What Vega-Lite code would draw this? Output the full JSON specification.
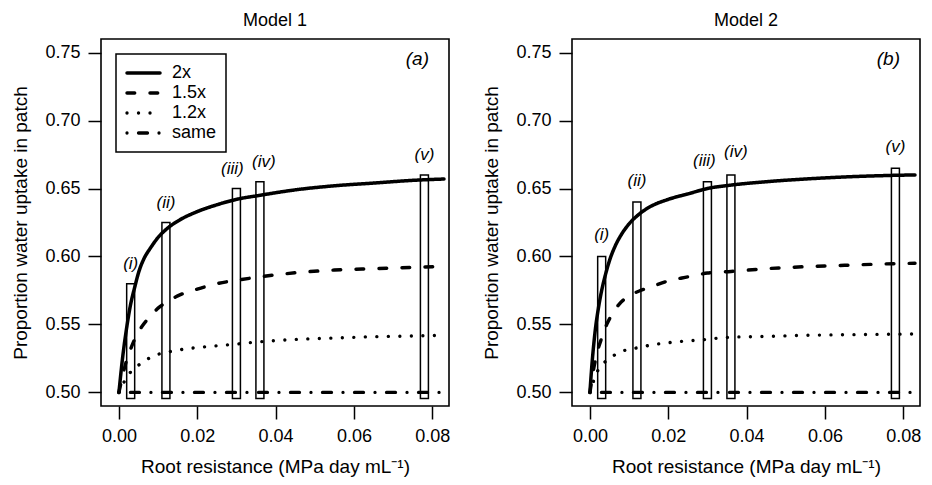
{
  "$schema": "https://vega.github.io/schema/vega-lite/v6.json",
  "padding": {"left": 11, "top": 11, "right": 6, "bottom": 2},
  "background": "white",
  "config": {
    "font": "Liberation Sans",
    "view": {"stroke": "black", "strokeWidth": 1.6},
    "axis": {"domain": false, "grid": false, "tickColor": "black", "tickSize": 13, "tickWidth": 1.5, "labelFontSize": 18, "labelColor": "black", "labelFont": "Liberation Sans", "titleFontSize": 19, "titleFontWeight": "normal", "titleColor": "black", "titleFont": "Liberation Sans"},
    "axisX": {"labelPadding": 8, "titlePadding": 12},
    "axisY": {"labelPadding": 8, "titlePadding": 14},
    "title": {"fontSize": 18, "fontWeight": "normal", "font": "Liberation Sans", "color": "black", "offset": 9}
  },
  "datasets": {
    "curves": [
      {"model": "Model 1", "series": "2x", "x": 0, "y": 0.5},
      {"model": "Model 1", "series": "2x", "x": 0.001, "y": 0.527},
      {"model": "Model 1", "series": "2x", "x": 0.002, "y": 0.548},
      {"model": "Model 1", "series": "2x", "x": 0.003, "y": 0.565},
      {"model": "Model 1", "series": "2x", "x": 0.004, "y": 0.577},
      {"model": "Model 1", "series": "2x", "x": 0.005, "y": 0.588},
      {"model": "Model 1", "series": "2x", "x": 0.0065, "y": 0.599},
      {"model": "Model 1", "series": "2x", "x": 0.008, "y": 0.606},
      {"model": "Model 1", "series": "2x", "x": 0.01, "y": 0.614},
      {"model": "Model 1", "series": "2x", "x": 0.0125, "y": 0.621},
      {"model": "Model 1", "series": "2x", "x": 0.015, "y": 0.626},
      {"model": "Model 1", "series": "2x", "x": 0.02, "y": 0.633},
      {"model": "Model 1", "series": "2x", "x": 0.025, "y": 0.638},
      {"model": "Model 1", "series": "2x", "x": 0.03, "y": 0.642},
      {"model": "Model 1", "series": "2x", "x": 0.036, "y": 0.645},
      {"model": "Model 1", "series": "2x", "x": 0.045, "y": 0.649},
      {"model": "Model 1", "series": "2x", "x": 0.055, "y": 0.652},
      {"model": "Model 1", "series": "2x", "x": 0.065, "y": 0.654},
      {"model": "Model 1", "series": "2x", "x": 0.075, "y": 0.656},
      {"model": "Model 1", "series": "2x", "x": 0.083, "y": 0.657},
      {"model": "Model 1", "series": "1.5x", "x": 0, "y": 0.5},
      {"model": "Model 1", "series": "1.5x", "x": 0.001, "y": 0.513},
      {"model": "Model 1", "series": "1.5x", "x": 0.002, "y": 0.524},
      {"model": "Model 1", "series": "1.5x", "x": 0.003, "y": 0.532},
      {"model": "Model 1", "series": "1.5x", "x": 0.0045, "y": 0.542},
      {"model": "Model 1", "series": "1.5x", "x": 0.006, "y": 0.549},
      {"model": "Model 1", "series": "1.5x", "x": 0.008, "y": 0.556},
      {"model": "Model 1", "series": "1.5x", "x": 0.01, "y": 0.562},
      {"model": "Model 1", "series": "1.5x", "x": 0.0125, "y": 0.567},
      {"model": "Model 1", "series": "1.5x", "x": 0.015, "y": 0.571},
      {"model": "Model 1", "series": "1.5x", "x": 0.02, "y": 0.576},
      {"model": "Model 1", "series": "1.5x", "x": 0.025, "y": 0.58},
      {"model": "Model 1", "series": "1.5x", "x": 0.03, "y": 0.5825},
      {"model": "Model 1", "series": "1.5x", "x": 0.036, "y": 0.585},
      {"model": "Model 1", "series": "1.5x", "x": 0.045, "y": 0.588},
      {"model": "Model 1", "series": "1.5x", "x": 0.055, "y": 0.59},
      {"model": "Model 1", "series": "1.5x", "x": 0.065, "y": 0.591},
      {"model": "Model 1", "series": "1.5x", "x": 0.075, "y": 0.592},
      {"model": "Model 1", "series": "1.5x", "x": 0.083, "y": 0.5926},
      {"model": "Model 1", "series": "1.2x", "x": 0, "y": 0.5},
      {"model": "Model 1", "series": "1.2x", "x": 0.001, "y": 0.506},
      {"model": "Model 1", "series": "1.2x", "x": 0.002, "y": 0.511},
      {"model": "Model 1", "series": "1.2x", "x": 0.003, "y": 0.515},
      {"model": "Model 1", "series": "1.2x", "x": 0.005, "y": 0.52},
      {"model": "Model 1", "series": "1.2x", "x": 0.007, "y": 0.524},
      {"model": "Model 1", "series": "1.2x", "x": 0.01, "y": 0.528},
      {"model": "Model 1", "series": "1.2x", "x": 0.013, "y": 0.53},
      {"model": "Model 1", "series": "1.2x", "x": 0.017, "y": 0.532},
      {"model": "Model 1", "series": "1.2x", "x": 0.022, "y": 0.5335},
      {"model": "Model 1", "series": "1.2x", "x": 0.028, "y": 0.535},
      {"model": "Model 1", "series": "1.2x", "x": 0.035, "y": 0.537},
      {"model": "Model 1", "series": "1.2x", "x": 0.045, "y": 0.539},
      {"model": "Model 1", "series": "1.2x", "x": 0.055, "y": 0.54},
      {"model": "Model 1", "series": "1.2x", "x": 0.065, "y": 0.541},
      {"model": "Model 1", "series": "1.2x", "x": 0.075, "y": 0.5415},
      {"model": "Model 1", "series": "1.2x", "x": 0.083, "y": 0.542},
      {"model": "Model 1", "series": "same", "x": 0, "y": 0.5},
      {"model": "Model 1", "series": "same", "x": 0.083, "y": 0.5},
      {"model": "Model 2", "series": "2x", "x": 0, "y": 0.5},
      {"model": "Model 2", "series": "2x", "x": 0.0005, "y": 0.52},
      {"model": "Model 2", "series": "2x", "x": 0.001, "y": 0.536},
      {"model": "Model 2", "series": "2x", "x": 0.0015, "y": 0.549},
      {"model": "Model 2", "series": "2x", "x": 0.002, "y": 0.559},
      {"model": "Model 2", "series": "2x", "x": 0.003, "y": 0.575},
      {"model": "Model 2", "series": "2x", "x": 0.004, "y": 0.587},
      {"model": "Model 2", "series": "2x", "x": 0.005, "y": 0.597},
      {"model": "Model 2", "series": "2x", "x": 0.0065, "y": 0.608},
      {"model": "Model 2", "series": "2x", "x": 0.008, "y": 0.616},
      {"model": "Model 2", "series": "2x", "x": 0.01, "y": 0.624},
      {"model": "Model 2", "series": "2x", "x": 0.0125, "y": 0.631},
      {"model": "Model 2", "series": "2x", "x": 0.015, "y": 0.636},
      {"model": "Model 2", "series": "2x", "x": 0.02, "y": 0.642},
      {"model": "Model 2", "series": "2x", "x": 0.025, "y": 0.646},
      {"model": "Model 2", "series": "2x", "x": 0.03, "y": 0.65},
      {"model": "Model 2", "series": "2x", "x": 0.036, "y": 0.6525},
      {"model": "Model 2", "series": "2x", "x": 0.045, "y": 0.655},
      {"model": "Model 2", "series": "2x", "x": 0.055, "y": 0.657},
      {"model": "Model 2", "series": "2x", "x": 0.065, "y": 0.6585},
      {"model": "Model 2", "series": "2x", "x": 0.075, "y": 0.6595},
      {"model": "Model 2", "series": "2x", "x": 0.083, "y": 0.66},
      {"model": "Model 2", "series": "1.5x", "x": 0, "y": 0.5},
      {"model": "Model 2", "series": "1.5x", "x": 0.001, "y": 0.518},
      {"model": "Model 2", "series": "1.5x", "x": 0.002, "y": 0.531},
      {"model": "Model 2", "series": "1.5x", "x": 0.003, "y": 0.54},
      {"model": "Model 2", "series": "1.5x", "x": 0.0043, "y": 0.55},
      {"model": "Model 2", "series": "1.5x", "x": 0.006, "y": 0.559},
      {"model": "Model 2", "series": "1.5x", "x": 0.0075, "y": 0.565},
      {"model": "Model 2", "series": "1.5x", "x": 0.01, "y": 0.571},
      {"model": "Model 2", "series": "1.5x", "x": 0.0126, "y": 0.5746},
      {"model": "Model 2", "series": "1.5x", "x": 0.016, "y": 0.578},
      {"model": "Model 2", "series": "1.5x", "x": 0.02, "y": 0.582},
      {"model": "Model 2", "series": "1.5x", "x": 0.025, "y": 0.585},
      {"model": "Model 2", "series": "1.5x", "x": 0.03, "y": 0.5878},
      {"model": "Model 2", "series": "1.5x", "x": 0.036, "y": 0.589},
      {"model": "Model 2", "series": "1.5x", "x": 0.045, "y": 0.591},
      {"model": "Model 2", "series": "1.5x", "x": 0.055, "y": 0.5925},
      {"model": "Model 2", "series": "1.5x", "x": 0.065, "y": 0.5935},
      {"model": "Model 2", "series": "1.5x", "x": 0.075, "y": 0.5945},
      {"model": "Model 2", "series": "1.5x", "x": 0.083, "y": 0.595},
      {"model": "Model 2", "series": "1.2x", "x": 0, "y": 0.5},
      {"model": "Model 2", "series": "1.2x", "x": 0.001, "y": 0.509},
      {"model": "Model 2", "series": "1.2x", "x": 0.002, "y": 0.516},
      {"model": "Model 2", "series": "1.2x", "x": 0.003, "y": 0.52},
      {"model": "Model 2", "series": "1.2x", "x": 0.0045, "y": 0.524},
      {"model": "Model 2", "series": "1.2x", "x": 0.006, "y": 0.527},
      {"model": "Model 2", "series": "1.2x", "x": 0.008, "y": 0.53},
      {"model": "Model 2", "series": "1.2x", "x": 0.0117, "y": 0.5326},
      {"model": "Model 2", "series": "1.2x", "x": 0.016, "y": 0.535},
      {"model": "Model 2", "series": "1.2x", "x": 0.0225, "y": 0.5373},
      {"model": "Model 2", "series": "1.2x", "x": 0.03, "y": 0.539},
      {"model": "Model 2", "series": "1.2x", "x": 0.035, "y": 0.5405},
      {"model": "Model 2", "series": "1.2x", "x": 0.045, "y": 0.5412},
      {"model": "Model 2", "series": "1.2x", "x": 0.055, "y": 0.542},
      {"model": "Model 2", "series": "1.2x", "x": 0.065, "y": 0.5424},
      {"model": "Model 2", "series": "1.2x", "x": 0.075, "y": 0.5427},
      {"model": "Model 2", "series": "1.2x", "x": 0.083, "y": 0.543},
      {"model": "Model 2", "series": "same", "x": 0, "y": 0.5},
      {"model": "Model 2", "series": "same", "x": 0.083, "y": 0.5}
    ],
    "bars": [
      {"model": "Model 1", "label": "(i)", "x": 0.003, "y": 0.58, "base": 0.4955},
      {"model": "Model 1", "label": "(ii)", "x": 0.012, "y": 0.625, "base": 0.4955},
      {"model": "Model 1", "label": "(iii)", "x": 0.03, "y": 0.65, "base": 0.4955},
      {"model": "Model 1", "label": "(iv)", "x": 0.036, "y": 0.655, "base": 0.4955},
      {"model": "Model 1", "label": "(v)", "x": 0.078, "y": 0.66, "base": 0.4955},
      {"model": "Model 2", "label": "(i)", "x": 0.003, "y": 0.6, "base": 0.4955},
      {"model": "Model 2", "label": "(ii)", "x": 0.012, "y": 0.64, "base": 0.4955},
      {"model": "Model 2", "label": "(iii)", "x": 0.03, "y": 0.655, "base": 0.4955},
      {"model": "Model 2", "label": "(iv)", "x": 0.036, "y": 0.66, "base": 0.4955},
      {"model": "Model 2", "label": "(v)", "x": 0.078, "y": 0.665, "base": 0.4955}
    ],
    "tags": [
      {"model": "Model 1", "tag": "(a)", "x": 0.0762, "y": 0.745},
      {"model": "Model 2", "tag": "(b)", "x": 0.0762, "y": 0.745}
    ]
  },
  "spacing": 123,
  "bounds": "flush",
  "resolve": {
    "scale": {"strokeDash": "independent", "strokeWidth": "independent"},
    "legend": {"strokeDash": "independent", "strokeWidth": "independent"}
  },
  "hconcat": [
    {
      "width": 348,
      "height": 367,
      "title": {"text": "Model 1"},
      "encoding": {
        "x": {"field": "x", "type": "quantitative", "scale": {"domain": [-0.0033, 0.083], "nice": false, "zero": false}, "axis": {"values": [0, 0.02, 0.04, 0.06, 0.08], "format": ".2f", "title": "Root resistance (MPa day mL⁻¹)"}},
        "y": {"field": "y", "type": "quantitative", "scale": {"domain": [0.49, 0.76], "nice": false, "zero": false}, "axis": {"values": [0.5, 0.55, 0.6, 0.65, 0.7, 0.75], "format": ".2f", "title": "Proportion water uptake in patch"}}
      },
      "layer": [
        {
          "data": {"name": "bars"},
          "transform": [{"filter": "datum.model == 'Model 1'"}],
          "mark": {"type": "bar", "orient": "vertical", "width": 8, "fill": "white", "stroke": "black", "strokeWidth": 1.5},
          "encoding": {"y2": {"field": "base"}}
        },
        {
          "data": {"name": "curves"},
          "transform": [{"filter": "datum.model == 'Model 1'"}],
          "mark": {"type": "line", "color": "black", "strokeCap": "round", "interpolate": "monotone"},
          "encoding": {
            "strokeDash": {"field": "series", "type": "nominal", "scale": {"domain": ["2x", "1.5x", "1.2x", "same"], "range": [[1, 0], [7.7, 15.3], [0.01, 11.5], [0.01, 11.5, 9, 11.5]]}, "legend": {"title": null, "orient": "none", "legendX": 15, "legendY": 15, "direction": "vertical", "strokeColor": "black", "fillColor": "white", "padding": 9, "symbolType": "stroke", "symbolSize": 1089, "symbolStrokeColor": "black", "labelFontSize": 18, "labelColor": "black", "labelFont": "Liberation Sans", "labelOffset": 10, "rowPadding": 0, "clipHeight": 20, "encode": {"legend": {"update": {"strokeWidth": {"value": 1.5}}}, "symbols": {"update": {"strokeCap": {"value": "round"}}}}}},
            "strokeWidth": {"field": "series", "type": "ordinal", "scale": {"domain": ["2x", "1.5x", "1.2x", "same"], "range": [3.5, 3.3, 2.6, 4]}, "legend": {"title": null, "orient": "none", "legendX": 15, "legendY": 15, "direction": "vertical", "strokeColor": "black", "fillColor": "white", "padding": 9, "symbolType": "stroke", "symbolSize": 1089, "symbolStrokeColor": "black", "labelFontSize": 18, "labelColor": "black", "labelFont": "Liberation Sans", "labelOffset": 10, "rowPadding": 0, "clipHeight": 20, "encode": {"legend": {"update": {"strokeWidth": {"value": 1.5}}}, "symbols": {"update": {"strokeCap": {"value": "round"}}}}}}
          }
        },
        {
          "data": {"name": "bars"},
          "transform": [{"filter": "datum.model == 'Model 1' && datum.label != '(iii)' && datum.label != '(iv)'"}],
          "mark": {"type": "text", "dy": -20, "fontSize": 17, "fontStyle": "italic", "align": "center", "baseline": "middle", "color": "black"},
          "encoding": {"text": {"field": "label"}}
        },
        {
          "data": {"name": "bars"},
          "transform": [{"filter": "datum.model == 'Model 1' && datum.label == '(iii)'"}],
          "mark": {"type": "text", "dy": -20, "dx": -4, "fontSize": 17, "fontStyle": "italic", "align": "center", "baseline": "middle", "color": "black"},
          "encoding": {"text": {"field": "label"}}
        },
        {
          "data": {"name": "bars"},
          "transform": [{"filter": "datum.model == 'Model 1' && datum.label == '(iv)'"}],
          "mark": {"type": "text", "dy": -20, "dx": 4, "fontSize": 17, "fontStyle": "italic", "align": "center", "baseline": "middle", "color": "black"},
          "encoding": {"text": {"field": "label"}}
        },
        {
          "data": {"name": "tags"},
          "transform": [{"filter": "datum.model == 'Model 1'"}],
          "mark": {"type": "text", "fontSize": 19, "fontStyle": "italic", "align": "center", "baseline": "middle", "color": "black"},
          "encoding": {"text": {"field": "tag"}}
        }
      ]
    },
    {
      "width": 348,
      "height": 367,
      "title": {"text": "Model 2"},
      "encoding": {
        "x": {"field": "x", "type": "quantitative", "scale": {"domain": [-0.0033, 0.083], "nice": false, "zero": false}, "axis": {"values": [0, 0.02, 0.04, 0.06, 0.08], "format": ".2f", "title": "Root resistance (MPa day mL⁻¹)"}},
        "y": {"field": "y", "type": "quantitative", "scale": {"domain": [0.49, 0.76], "nice": false, "zero": false}, "axis": {"values": [0.5, 0.55, 0.6, 0.65, 0.7, 0.75], "format": ".2f", "title": "Proportion water uptake in patch"}}
      },
      "layer": [
        {
          "data": {"name": "bars"},
          "transform": [{"filter": "datum.model == 'Model 2'"}],
          "mark": {"type": "bar", "orient": "vertical", "width": 8, "fill": "white", "stroke": "black", "strokeWidth": 1.5},
          "encoding": {"y2": {"field": "base"}}
        },
        {
          "data": {"name": "curves"},
          "transform": [{"filter": "datum.model == 'Model 2'"}],
          "mark": {"type": "line", "color": "black", "strokeCap": "round", "interpolate": "monotone"},
          "encoding": {
            "strokeDash": {"field": "series", "type": "nominal", "scale": {"domain": ["2x", "1.5x", "1.2x", "same"], "range": [[1, 0], [7.7, 15.3], [0.01, 11.5], [0.01, 11.5, 9, 11.5]]}, "legend": null},
            "strokeWidth": {"field": "series", "type": "ordinal", "scale": {"domain": ["2x", "1.5x", "1.2x", "same"], "range": [3.5, 3.3, 2.6, 4]}, "legend": null}
          }
        },
        {
          "data": {"name": "bars"},
          "transform": [{"filter": "datum.model == 'Model 2' && datum.label != '(iii)' && datum.label != '(iv)'"}],
          "mark": {"type": "text", "dy": -21, "fontSize": 17, "fontStyle": "italic", "align": "center", "baseline": "middle", "color": "black"},
          "encoding": {"text": {"field": "label"}}
        },
        {
          "data": {"name": "bars"},
          "transform": [{"filter": "datum.model == 'Model 2' && datum.label == '(iii)'"}],
          "mark": {"type": "text", "dy": -21, "dx": -3, "fontSize": 17, "fontStyle": "italic", "align": "center", "baseline": "middle", "color": "black"},
          "encoding": {"text": {"field": "label"}}
        },
        {
          "data": {"name": "bars"},
          "transform": [{"filter": "datum.model == 'Model 2' && datum.label == '(iv)'"}],
          "mark": {"type": "text", "dy": -23, "dx": 5, "fontSize": 17, "fontStyle": "italic", "align": "center", "baseline": "middle", "color": "black"},
          "encoding": {"text": {"field": "label"}}
        },
        {
          "data": {"name": "tags"},
          "transform": [{"filter": "datum.model == 'Model 2'"}],
          "mark": {"type": "text", "fontSize": 19, "fontStyle": "italic", "align": "center", "baseline": "middle", "color": "black"},
          "encoding": {"text": {"field": "tag"}}
        }
      ]
    }
  ]
}
